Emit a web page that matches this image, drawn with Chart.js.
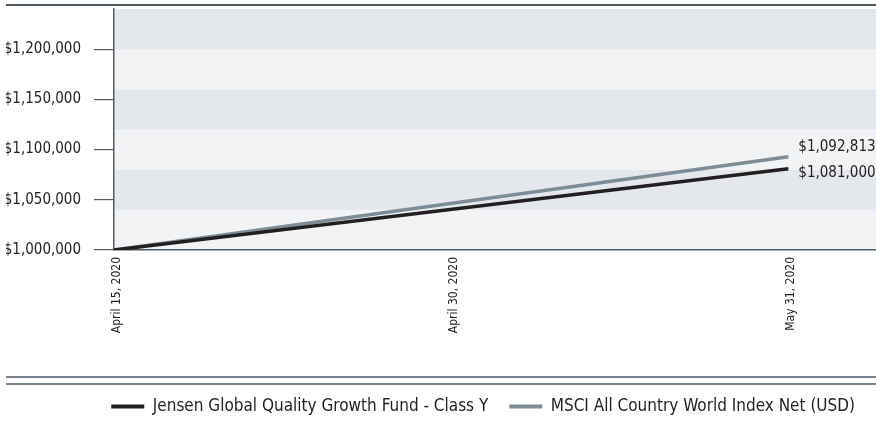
<!DOCTYPE html>
<html>
<head>
<meta charset="utf-8">
<script src="https://cdn.jsdelivr.net/npm/chart.js@4/dist/chart.umd.min.js"></script>
<style>
  html, body { margin: 0; padding: 0; background: #ffffff; }
  #wrap { width: 876px; height: 421px; position: relative; }
</style>
</head>
<body>
<div id="wrap"><canvas id="growth"></canvas></div>
<script>
// Growth of a $1,000,000 investment
const dateLabels = ['April 15, 2020', 'April 30, 2020', 'May 31, 2020'];
const fundValues = [1000000, null, 1081000];
const indexValues = [1000000, null, 1092813];
const yTickValues = [1000000, 1050000, 1100000, 1150000, 1200000];
const seriesNames = ['Jensen Global Quality Growth Fund - Class Y', 'MSCI All Country World Index Net (USD)'];

const FONT = "'DejaVu Sans Condensed', 'Liberation Sans Narrow', 'Roboto', sans-serif";
const INK = '#231f20';
const SLATE = '#4e5a65';
const FUND_COLOR = '#231f20';
const INDEX_COLOR = '#7d8d96';
const BAND_DARK = '#e4e7eb';
const BAND_LIGHT = '#f2f3f5';

const money = v => '$' + Number(v).toLocaleString('en-US');
const toPoints = vals => vals.map((v, i) => ({ x: i, y: v }));

// Alternating horizontal bands, frame rules and end-of-line value labels
const decor = {
  id: 'decor',
  beforeDraw(chart) {
    const { ctx, chartArea, scales } = chart;
    const y = scales.y;
    const step = 40000;
    ctx.save();
    let k = 0;
    for (let v = y.min; v < y.max; v += step, k++) {
      const top = y.getPixelForValue(Math.min(v + step, y.max));
      const bot = y.getPixelForValue(v);
      ctx.fillStyle = k % 2 === 0 ? BAND_LIGHT : BAND_DARK;
      ctx.fillRect(chartArea.left, top, chart.width - chartArea.left, bot - top);
    }
    // rules above and below the chart
    ctx.strokeStyle = SLATE;
    ctx.lineWidth = 2;
    ctx.beginPath(); ctx.moveTo(6, 5); ctx.lineTo(chart.width, 5); ctx.stroke();
    ctx.lineWidth = 1.5;
    ctx.beginPath(); ctx.moveTo(6, 377); ctx.lineTo(chart.width, 377); ctx.stroke();
    ctx.beginPath(); ctx.moveTo(6, 384); ctx.lineTo(chart.width, 384); ctx.stroke();
    ctx.restore();
  },
  afterDatasetsDraw(chart) {
    const { ctx } = chart;
    ctx.save();
    ctx.font = '15px ' + FONT;
    ctx.fillStyle = INK;
    ctx.textAlign = 'left';
    ctx.textBaseline = 'middle';
    chart.data.datasets.forEach((ds, i) => {
      const meta = chart.getDatasetMeta(i);
      const pts = meta.data.filter((p, j) => ds.data[j].y !== null);
      const last = pts[pts.length - 1];
      const val = ds.data.filter(d => d.y !== null).pop().y;
      ctx.fillText(money(val), last.x + 10, last.y + ds.labelShift);
    });
    ctx.restore();
  }
};

new Chart(document.getElementById('growth'), {
  type: 'line',
  data: {
    datasets: [
      {
        label: seriesNames[0],
        data: toPoints(fundValues),
        borderColor: FUND_COLOR,
        backgroundColor: FUND_COLOR,
        borderWidth: 3.5,
        pointRadius: 0,
        spanGaps: true,
        labelShift: 4,
        order: 1
      },
      {
        label: seriesNames[1],
        data: toPoints(indexValues),
        borderColor: INDEX_COLOR,
        backgroundColor: INDEX_COLOR,
        borderWidth: 3.5,
        pointRadius: 0,
        spanGaps: true,
        labelShift: -10,
        order: 2
      }
    ]
  },
  options: {
    responsive: true,
    maintainAspectRatio: false,
    animation: false,
    layout: { padding: { left: 6, top: 9, right: 0, bottom: -4 } },
    scales: {
      x: {
        type: 'linear',
        min: 0,
        max: 2.26,
        afterBuildTicks: s => { s.ticks = dateLabels.map((_, i) => ({ value: i })); },
        afterFit: s => { s.height = 127; s.paddingLeft = 0; s.paddingRight = 0; },
        grid: { display: false, drawTicks: false },
        border: { display: true, color: SLATE, width: 1.5 },
        ticks: {
          autoSkip: false,
          minRotation: 90,
          maxRotation: 90,
          padding: 7,
          labelOffset: 3,
          color: INK,
          font: { family: FONT, size: 12 },
          callback: v => dateLabels[v]
        }
      },
      y: {
        min: 1000000,
        max: 1240000,
        afterBuildTicks: s => { s.ticks = yTickValues.map(v => ({ value: v })); },
        afterFit: s => { s.width = 108; s.paddingTop = 0; s.paddingBottom = 0; },
        grid: { drawOnChartArea: false, drawTicks: true, tickLength: 20, color: SLATE, lineWidth: 1.2 },
        border: { display: true, color: SLATE, width: 1.5 },
        ticks: {
          padding: 13,
          color: INK,
          font: { family: FONT, size: 15 },
          callback: v => money(v)
        }
      }
    },
    plugins: {
      tooltip: { enabled: false },
      legend: {
        position: 'bottom',
        align: 'end',
        labels: {
          color: INK,
          font: { family: FONT, size: 17 },
          boxWidth: 33,
          boxHeight: 4,
          padding: 21,
          sort: (a, b) => a.datasetIndex - b.datasetIndex,
          generateLabels: chart => Chart.defaults.plugins.legend.labels.generateLabels(chart)
            .map(item => Object.assign(item, { lineWidth: 0 }))
        }
      }
    }
  },
  plugins: [decor]
});
</script>
</body>
</html>
